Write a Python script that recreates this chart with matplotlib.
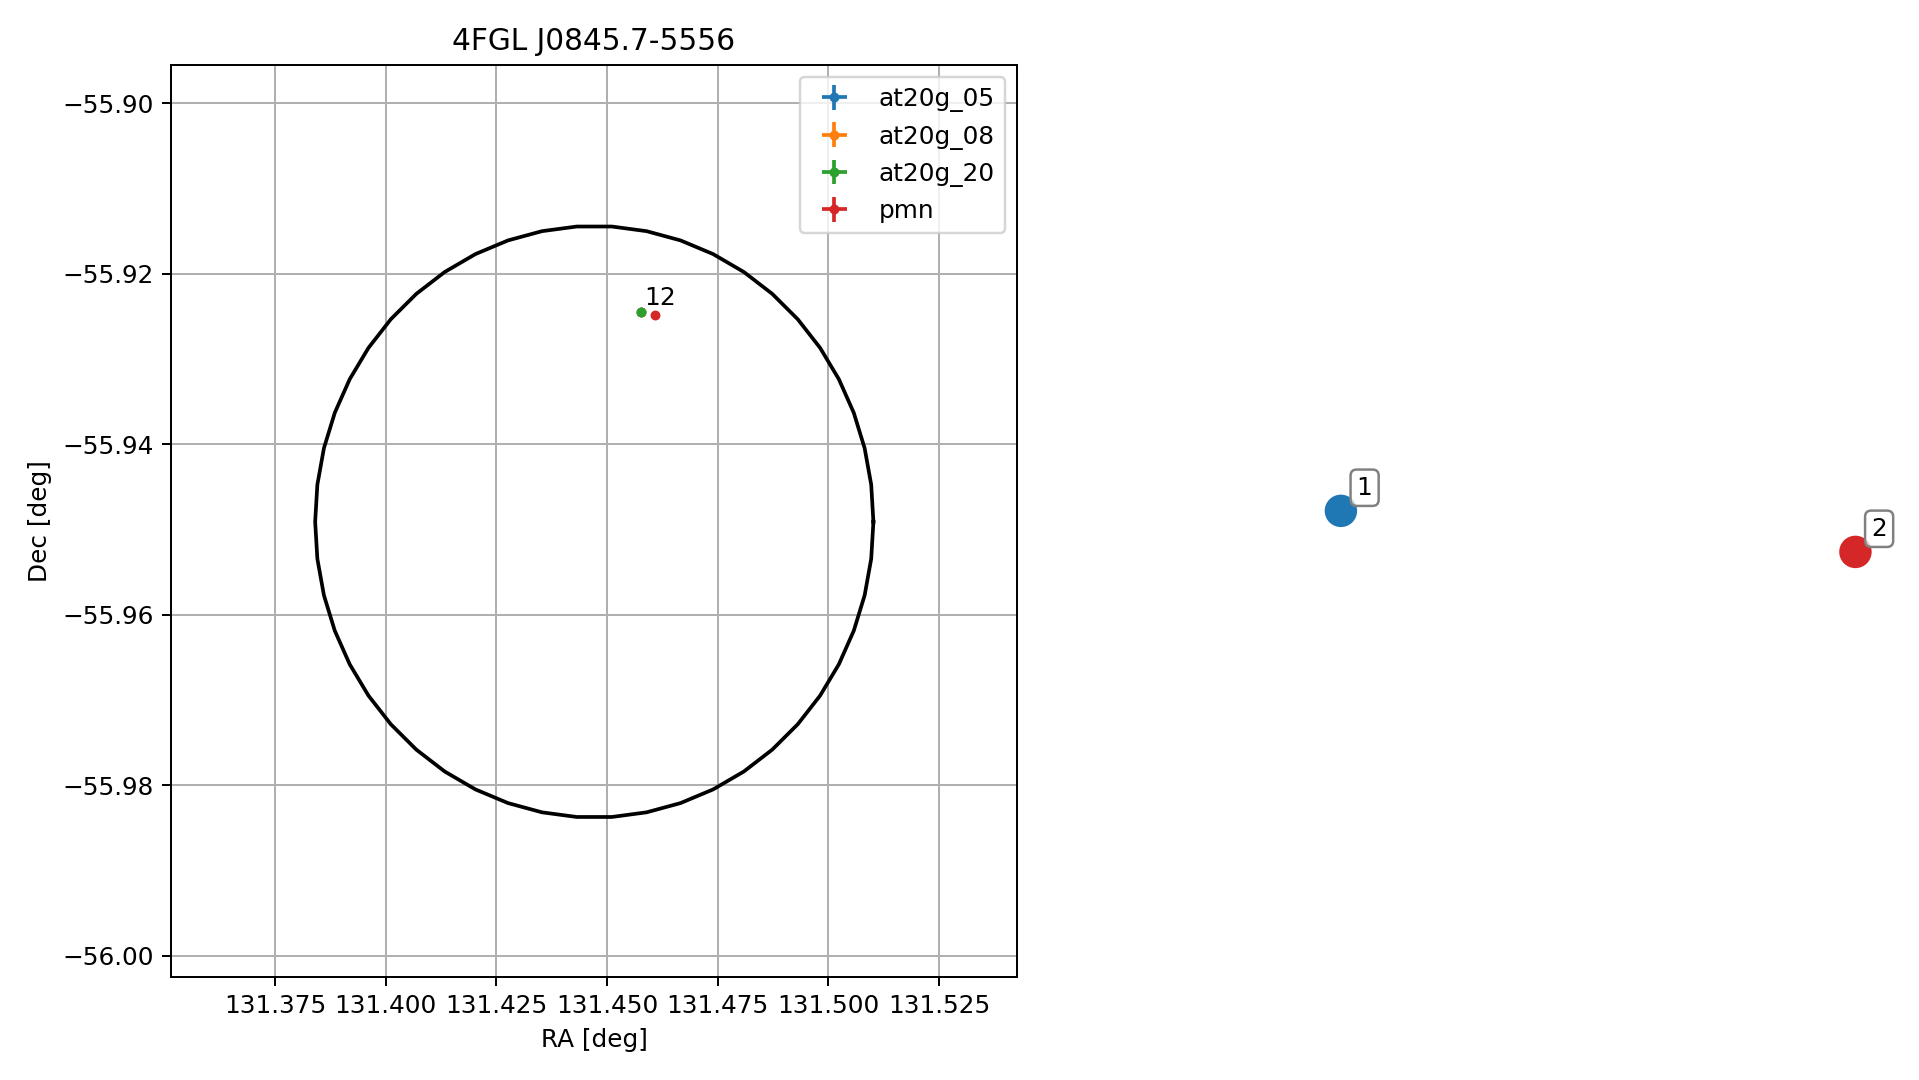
import matplotlib
matplotlib.use("Agg")
import matplotlib.pyplot as plt
import numpy as np

# 4FGL source and its error ellipse
src_name = "4FGL J0845.7-5556"
src_ra = 131.4471
src_dec = -55.9491
ell_a = 0.0353   # deg, along RA (on sky)
ell_b = 0.0347   # deg, along Dec

# counterpart candidates
cat_names = ["at20g_05", "at20g_08", "at20g_20", "pmn"]
cat_ra = [131.4576, 131.4576, 131.4576, 131.4609]
cat_dec = [-55.9245, -55.9245, -55.9245, -55.9248]
cat_err = [0.0002, 0.0002, 0.0002, 0.0002]

# numbered matches (label, label position, position in the overview panel, colour)
match_labels = ["1", "2"]
match_ra = [131.4576, 131.4609]
match_dec = [-55.9245, -55.9245]
graph_x = [-1.0, 1.0]
graph_y = [0.022, -0.068]
graph_colors = ["C0", "C3"]

xticks = [131.375, 131.400, 131.425, 131.450, 131.475, 131.500, 131.525]
yticks = [-55.90, -55.92, -55.94, -55.96, -55.98, -56.00]

dpi = 178
fig = plt.figure(figsize=(1919.2 / dpi, 1080.2 / dpi), dpi=dpi)

ax = fig.add_axes([171 / 1919, 103 / 1080, 846 / 1919, 912 / 1080])

#error ellipse as a polygon
t = np.linspace(0, 2 * np.pi, 51)
cosd = np.cos(np.radians(src_dec))
ax.plot(src_ra + ell_a * np.cos(t) / cosd, src_dec + ell_b * np.sin(t), color="k")

for i, name in enumerate(cat_names):
    ax.errorbar(cat_ra[i], cat_dec[i], xerr=cat_err[i], yerr=cat_err[i],
                fmt=".", color="C%d" % i, label=name)

for lab, ra, dec in zip(match_labels, match_ra, match_dec):
    ax.annotate(lab, (ra, dec), xytext=(1.5, 3.0), textcoords="offset points",
                ha="left", va="baseline")

ax.set_xlim(131.3515, 131.5426)
ax.set_ylim(-56.0025, -55.8955)
ax.set_xticks(xticks)
ax.set_yticks(yticks)
ax.ticklabel_format(useOffset=False)
ax.grid(True)
ax.legend(loc="upper right")
ax.set_title(src_name)
ax.set_xlabel("RA [deg]")
ax.set_ylabel("Dec [deg]")

#overview of the numbered matches
ax2 = fig.add_axes([1100 / 1919, 103 / 1080, 800 / 1919, 912 / 1080])
ax2.scatter(graph_x, graph_y, s=147, c=graph_colors, zorder=2)
for lab, gx, gy in zip(match_labels, graph_x, graph_y):
    ax2.annotate(lab, (gx, gy), xytext=(6.4, 4.5), textcoords="offset points",
                 ha="left", va="bottom", zorder=3,
                 bbox=dict(boxstyle="round,pad=0.25", fc=(1, 1, 1, 0.7), ec="gray"))
ax2.set_xlim(-1.936, 1.174)
ax2.set_ylim(-1, 1)
ax2.axis("off")

fig.savefig("out.png", dpi=dpi)
